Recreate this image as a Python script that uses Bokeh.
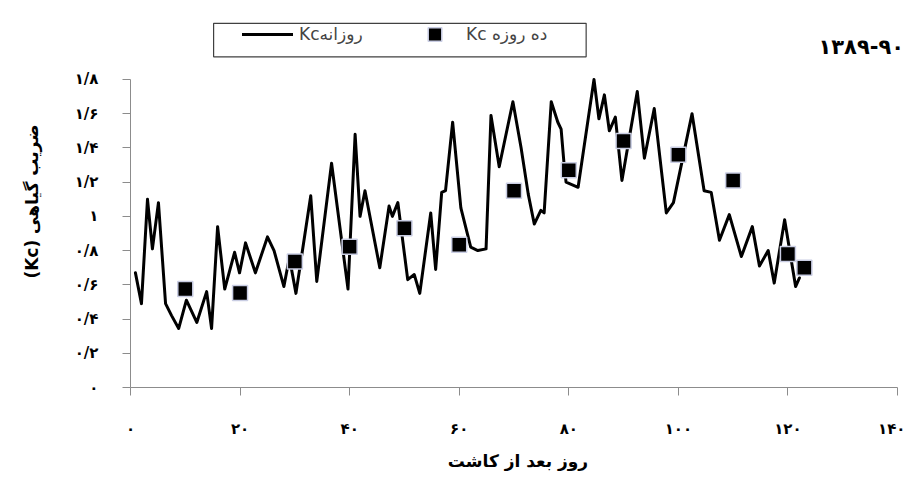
from bokeh.plotting import figure
from bokeh.models import FixedTicker, Legend, LegendItem, Label, BoxAnnotation
from bokeh.embed import file_html
from bokeh.resources import INLINE

# Daily Kc (at its turning points)
daily_day = [0.9, 2.0, 3.1, 4.0, 5.1, 6.4, 7.5, 8.8, 10.2, 12.1, 13.9, 14.8, 15.9, 17.2,
             19.0, 19.9, 21.0, 22.8, 25.0, 26.2, 28.0, 29.0, 30.2, 32.9, 34.0, 36.7,
             39.7, 41.0, 41.9, 42.8, 45.5, 47.2, 47.8, 48.8, 50.6, 51.8, 52.8, 54.8,
             55.7, 56.8, 57.5, 58.8, 60.3, 62.1, 63.4, 64.9, 65.8, 67.3, 69.8, 71.3,
             72.6, 73.7, 74.9, 75.5, 76.8, 78.0, 78.6, 79.1, 79.5, 81.7, 84.6, 85.5,
             86.5, 87.4, 88.5, 89.7, 92.5, 93.8, 95.6, 97.8, 99.1, 102.5, 104.7, 106.0,
             107.5, 109.3, 111.5, 113.5, 114.8, 116.4, 117.5, 119.4, 121.4, 122.1]
daily_kc = [0.67, 0.49, 1.10, 0.81, 1.08, 0.49, 0.42, 0.345, 0.51, 0.38, 0.56, 0.345, 0.94, 0.575,
            0.79, 0.67, 0.845, 0.67, 0.88, 0.80, 0.59, 0.76, 0.55, 1.12, 0.62, 1.31,
            0.575, 1.48, 1.00, 1.15, 0.70, 1.06, 1.00, 1.08, 0.63, 0.66, 0.55, 1.02,
            0.69, 1.14, 1.15, 1.55, 1.05, 0.82, 0.80, 0.81, 1.59, 1.29, 1.67, 1.40,
            1.13, 0.955, 1.035, 1.02, 1.67, 1.55, 1.51, 1.32, 1.20, 1.17, 1.80, 1.57,
            1.71, 1.50, 1.58, 1.21, 1.73, 1.34, 1.63, 1.02, 1.08, 1.60, 1.15, 1.14,
            0.86, 1.01, 0.765, 0.94, 0.71, 0.80, 0.61, 0.98, 0.59, 0.64]

# Ten-day Kc
dekad_day = [10, 20, 30, 40, 50, 60, 70, 80, 90, 100, 110, 120, 123]
dekad_kc = [0.575, 0.552, 0.736, 0.822, 0.93, 0.834, 1.15, 1.27, 1.44, 1.36, 1.21, 0.78, 0.70]

x_ticks = [0, 20, 40, 60, 80, 100, 120, 140]
x_tick_labels = ["۰", "۲۰", "۴۰", "۶۰", "۸۰", "۱۰۰", "۱۲۰", "۱۴۰"]
y_ticks = [0, 0.2, 0.4, 0.6, 0.8, 1.0, 1.2, 1.4, 1.6, 1.8]
y_tick_labels = ["۰", "۰/۲", "۰/۴", "۰/۶", "۰/۸", "۱", "۱/۲", "۱/۴", "۱/۶", "۱/۸"]

series_daily = "Kcروزانه"
series_dekad = "Kc ده روزه"
title_text = "۱۳۸۹-۹۰"
x_title = "روز بعد از کاشت"
y_title = "(Kc) ضریب گیاهی"

FONT = "DejaVu Sans"

# frame: y=0 at 393px, y=1.8 at 80px; x=0 at 130px, x=140 at 897px.
# Frame extended up/right so legend and year label fit; axes bounded to data extents.
p = figure(width=905, height=473, x_range=(0, 141.46), y_range=(0, 2.1737),
           output_backend="svg", toolbar_location=None,
           min_border_left=130, min_border_right=0, min_border_top=15, min_border_bottom=80)
p.outline_line_color = None
p.xgrid.grid_line_color = None
p.ygrid.grid_line_color = None
p.background_fill_color = "white"
p.border_fill_color = "white"

line_r = p.line(daily_day, daily_kc, line_width=3, color="black",
                line_join="round", line_cap="round")
sq_r = p.scatter(dekad_day, dekad_kc, marker="square", size=15, fill_color="black",
                 line_color="#c9cde3", line_width=1.5)

for ax in (p.xaxis[0], p.yaxis[0]):
    ax.axis_line_color = "#8c8c8c"
    ax.major_tick_line_color = "#8c8c8c"
    ax.minor_tick_line_color = None
    ax.major_tick_in = 0
    ax.major_tick_out = 8
    ax.major_label_text_font = FONT
    ax.major_label_text_font_style = "bold"
    ax.major_label_text_font_size = "15px"
    ax.major_label_text_color = "black"
    ax.axis_label_text_font = FONT
    ax.axis_label_text_font_style = "bold"
    ax.axis_label_text_font_size = "17px"
    ax.axis_label_text_color = "black"

p.xaxis.bounds = (0, 140)
p.yaxis.bounds = (0, 1.8)
p.xaxis.ticker = FixedTicker(ticks=x_ticks)
p.yaxis.ticker = FixedTicker(ticks=y_ticks)
p.xaxis.major_label_overrides = {t: s for t, s in zip(x_ticks, x_tick_labels)}
p.yaxis.major_label_overrides = {t: s for t, s in zip(y_ticks, y_tick_labels)}
p.xaxis.major_label_standoff = 24
p.yaxis.major_label_standoff = 24
p.yaxis.major_label_orientation = "horizontal"
p.xaxis.axis_label = x_title
p.yaxis.axis_label = y_title
p.xaxis.axis_label_standoff = 10
p.yaxis.axis_label_standoff = 30

# legend frame (page px 213..585 x 23..57)
p.add_layout(BoxAnnotation(left=15.17, right=83.17, bottom=1.932, top=2.128,
                           fill_color="white", fill_alpha=1.0,
                           line_color="#404040", line_width=1.2, line_alpha=1.0))

legend = Legend(items=[LegendItem(label=series_daily, renderers=[line_r]),
                       LegendItem(label=series_dekad, renderers=[sq_r])],
                orientation="horizontal", location=(112, 336),
                padding=0, spacing=10, glyph_width=51, glyph_height=34, label_standoff=6,
                label_width=100, label_height=34, border_line_color=None,
                label_text_font=FONT, label_text_font_size="17px",
                background_fill_alpha=0.0)
p.add_layout(legend, "center")

p.add_layout(Label(x=141.2, y=1.99, text=title_text, text_align="right",
                   text_baseline="middle", text_font=FONT, text_font_style="bold",
                   text_font_size="21px", text_color="black"))

open("out.html", "w").write(file_html(p, INLINE))
